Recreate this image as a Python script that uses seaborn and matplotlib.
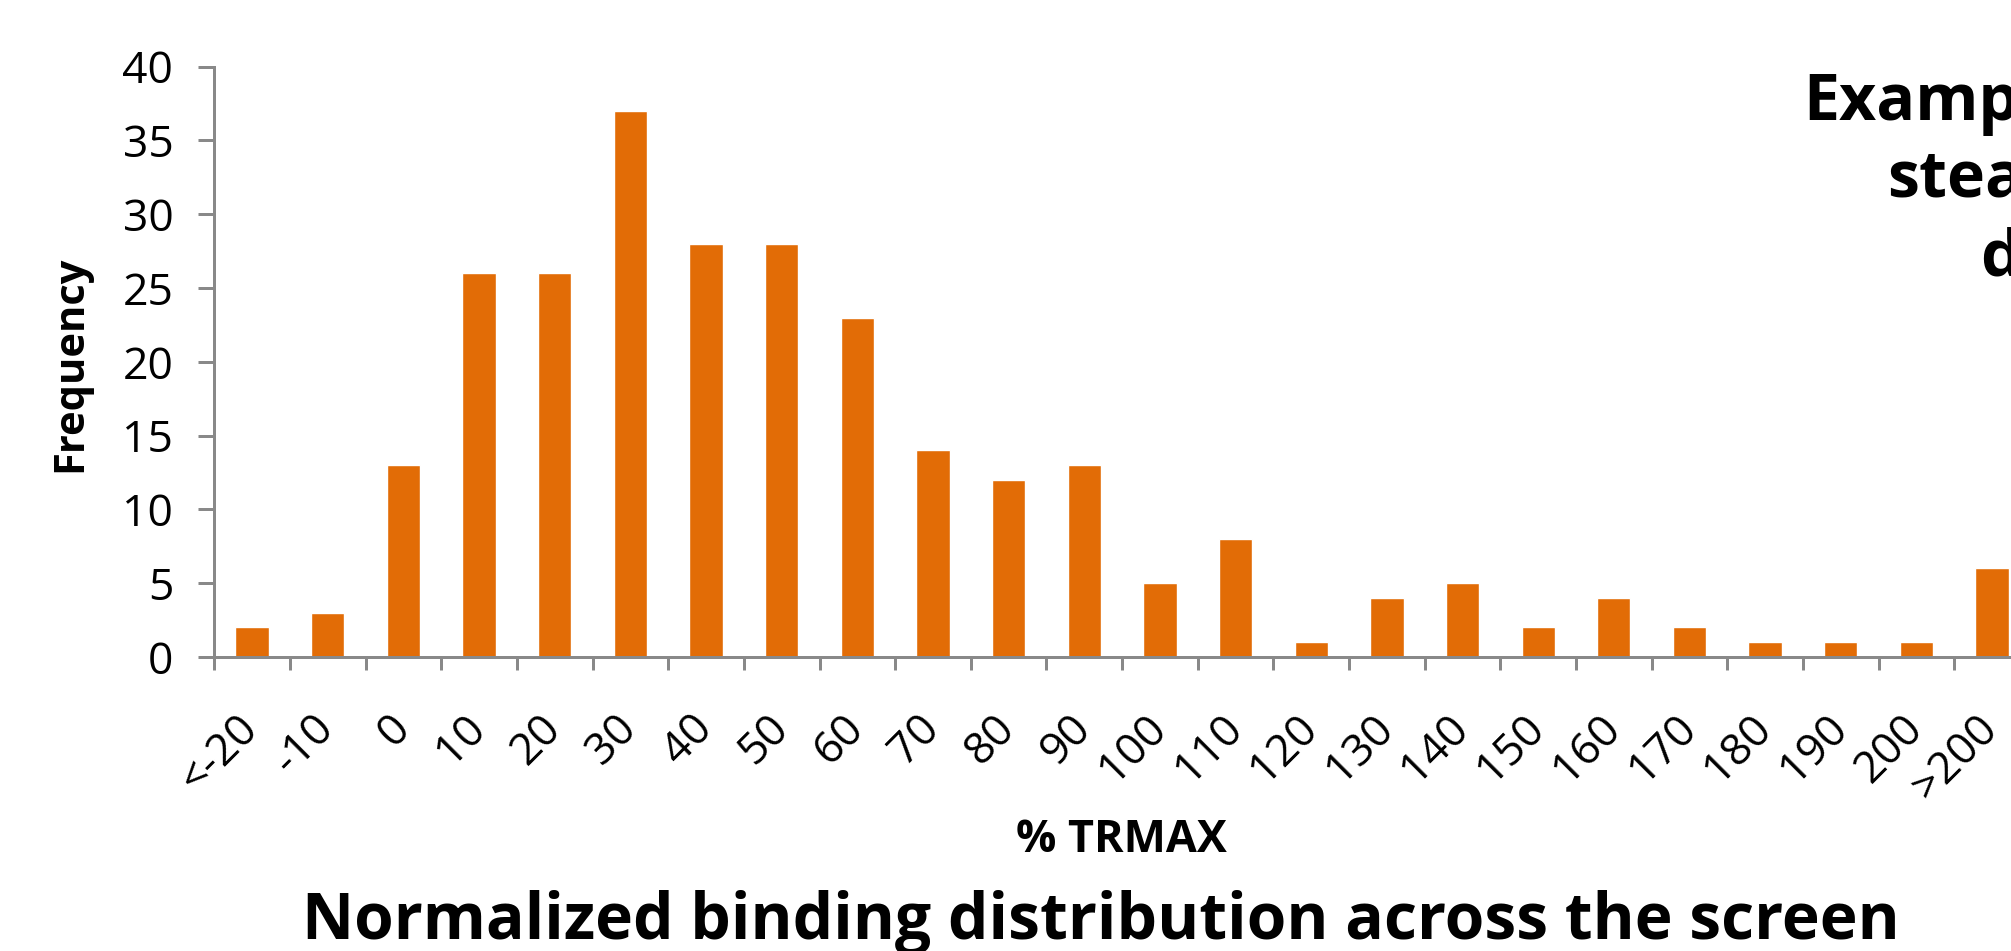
import matplotlib
matplotlib.use("Agg")
import matplotlib.pyplot as plt
import seaborn as sns

# ---- data -------------------------------------------------------------
categories = ["<-20", "-10", "0", "10", "20", "30", "40", "50", "60", "70",
              "80", "90", "100", "110", "120", "130", "140", "150", "160",
              "170", "180", "190", "200", ">200"]
frequency = [2, 3, 13, 26, 26, 37, 28, 28, 23, 14, 12, 13, 5, 8, 1, 4, 5,
             2, 4, 2, 1, 1, 1, 6]
y_ticks = [0, 5, 10, 15, 20, 25, 30, 35, 40]

x_label = "% TRMAX"
y_label = "Frequency"
title = "Normalized binding distribution across the screen"
note_lines = ["Example", "steady", "data"]

# ---- style ------------------------------------------------------------
BAR = "#E26C06"
AXIS = "#898989"

sns.set_style("white")
plt.rcParams["font.family"] = ["Open Sans", "DejaVu Sans"]
plt.rcParams["text.color"] = "black"

W, H = 2011, 951
fig = plt.figure(figsize=(W / 100, H / 100), dpi=100)
fig.patch.set_facecolor("white")

# plot area in pixels: y-axis at x=214, 0 at y=657, 40 at y=67,
# one category every 75.65 px (the last category runs past the frame)
step = 75.65
left_px, base_px, top_px = 214.3, 657.0, 66.7
ax = fig.add_axes([left_px / W, (H - base_px) / H,
                   step * len(categories) / W, (base_px - top_px) / H])

sns.barplot(x=categories, y=frequency, order=categories, color=BAR,
            saturation=1, width=0.44, ax=ax)

ax.set_xlim(-0.5, len(categories) - 0.5)
ax.set_ylim(0, 40)
ax.set_yticks(y_ticks)
ax.set_yticklabels([str(v) for v in y_ticks])

# category labels at bar centres, tick marks at category boundaries
ax.set_xticks(range(len(categories)))
ax.set_xticklabels(categories, rotation=45, ha="right", va="center",
                   rotation_mode="anchor")
ax.set_xticks([i - 0.5 for i in range(len(categories))], minor=True)

lw = 2.16
ax.tick_params(axis="x", which="major", length=0, pad=47, labelsize=32,
               labelcolor="black")
ax.tick_params(axis="x", which="minor", direction="out", length=9.4,
               width=lw, color=AXIS, bottom=True)
ax.tick_params(axis="y", which="major", direction="out", length=11.5,
               width=lw, color=AXIS, pad=18, labelsize=32,
               labelcolor="black", left=True)

for side in ("top", "right"):
    ax.spines[side].set_visible(False)
for side in ("left", "bottom"):
    ax.spines[side].set_color(AXIS)
    ax.spines[side].set_linewidth(lw)

ax.set_xlabel("")
ax.set_ylabel("")
ax.grid(False)
ax.set_facecolor("none")

# ---- text -------------------------------------------------------------
fig.text(81.7 / W, 1 - 364 / H, y_label, rotation=90, rotation_mode="anchor",
         ha="center", va="baseline", fontsize=30, fontweight="bold")
fig.text(1121.5 / W, 1 - 851.7 / H, x_label, ha="center", va="baseline",
         fontsize=32.3, fontweight="bold")
fig.text(1101 / W, 1 - 939 / H, title, ha="center", va="baseline",
         fontsize=46.2, fontweight="bold")

note_pos = [(1803.3, 120.0), (1886.7, 196.7), (1980.0, 275.0)]
for (px, py), line in zip(note_pos, note_lines):
    fig.text(px / W, 1 - py / H, line, ha="left", va="baseline",
             fontsize=46.4, fontweight="bold")

fig.savefig("out.png", dpi=100, facecolor="white")
